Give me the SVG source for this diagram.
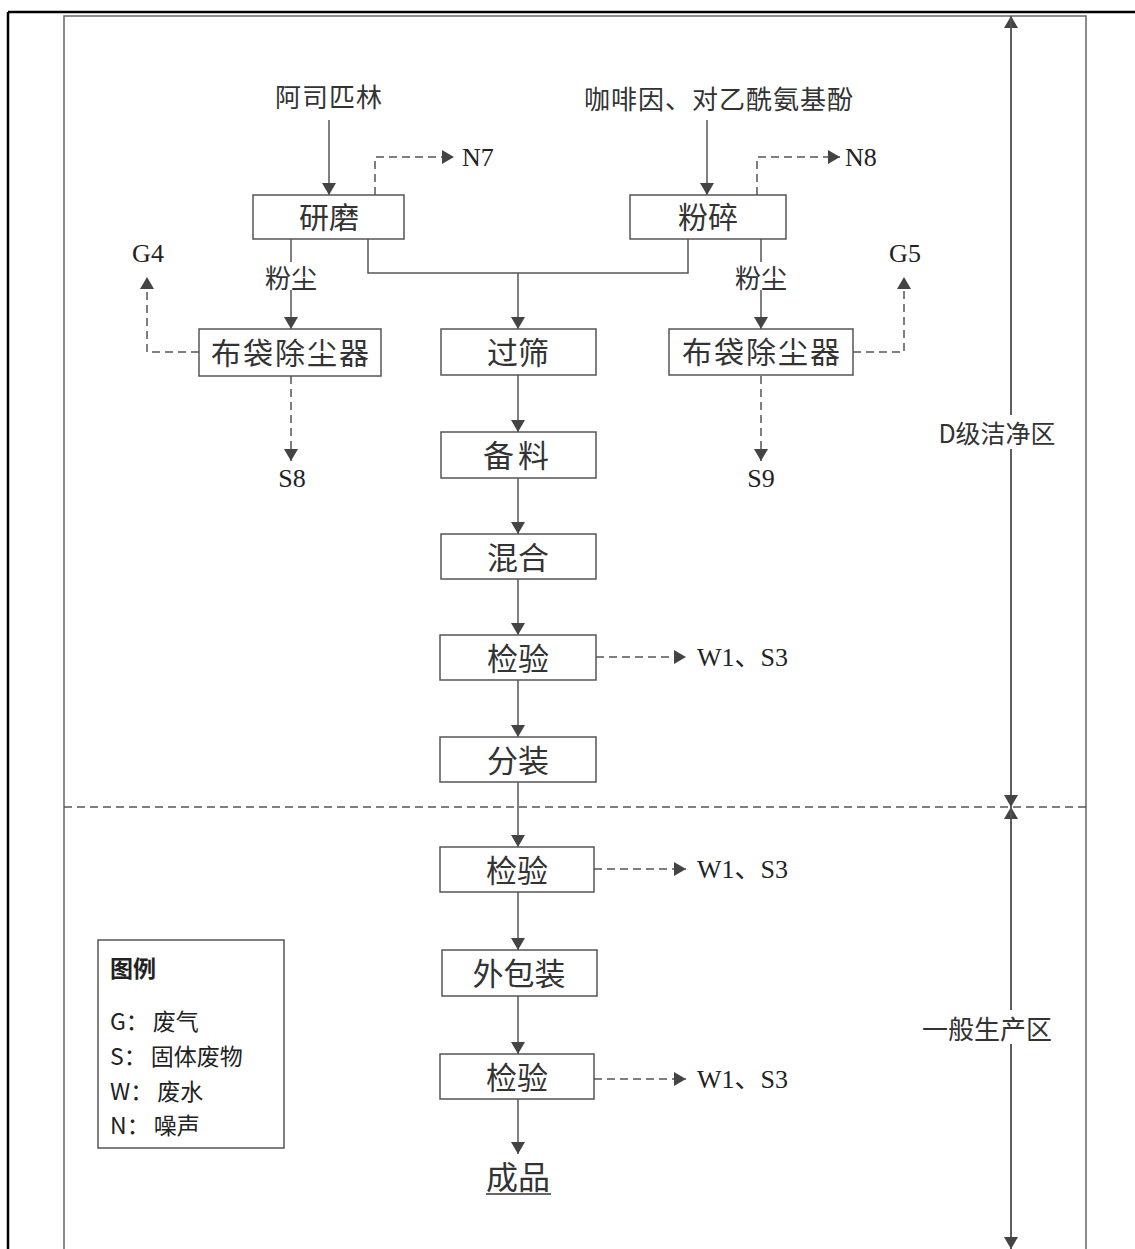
<svg xmlns="http://www.w3.org/2000/svg" width="1135" height="1249" viewBox="0 0 1135 1249">
<style>
.frame{fill:none;stroke:#000;stroke-width:2.5}
.inner{fill:none;stroke:#666;stroke-width:1.5}
.box{fill:#fff;stroke:#555;stroke-width:1.5}
.ln{fill:none;stroke:#555;stroke-width:1.5}
.dash{fill:none;stroke:#555;stroke-width:1.5;stroke-dasharray:8 5}
.cn{font-family:"Noto Sans CJK SC","Noto Sans",sans-serif;fill:#333;text-anchor:middle;dominant-baseline:central}
.lat{font-family:"Liberation Serif","Noto Sans CJK SC",serif;fill:#222;font-size:26px;dominant-baseline:central}
.lg{font-family:"Noto Sans CJK SC","Noto Sans",sans-serif;fill:#222;font-size:23px;dominant-baseline:central}
</style>
<defs>
<marker id="ah" viewBox="0 0 12 14" refX="12" refY="7" markerWidth="12" markerHeight="14" markerUnits="userSpaceOnUse" orient="auto">
<path d="M0,0 L12,7 L0,14 Z" fill="#444"/>
</marker>
</defs>
<rect width="1135" height="1249" fill="#fff"/>
<g id="frame">
<line class="frame" x1="8" y1="12" x2="1135" y2="12"/>
<line class="frame" x1="8" y1="12" x2="8" y2="1249"/>
<polyline class="inner" points="64,1249 64,16 1086,16 1086,1249"/>
<line class="dash" x1="64" y1="807" x2="1086" y2="807"/>
</g>
<g id="connectors">
<line class="ln" x1="329" y1="120" x2="329" y2="195" marker-end="url(#ah)"/>
<line class="ln" x1="707" y1="120" x2="707" y2="195" marker-end="url(#ah)"/>
<polyline class="dash" points="375,195 375,157 454,157" marker-end="url(#ah)"/>
<polyline class="dash" points="757,195 757,157 840,157" marker-end="url(#ah)"/>
<polyline class="ln" points="368,239 368,273 688,273 688,239"/>
<line class="ln" x1="518" y1="273" x2="518" y2="329" marker-end="url(#ah)"/>
<line class="ln" x1="291" y1="239" x2="291" y2="329" marker-end="url(#ah)"/>
<line class="ln" x1="761" y1="239" x2="761" y2="329" marker-end="url(#ah)"/>
<polyline class="dash" points="199,352 147,352 147,277" marker-end="url(#ah)"/>
<polyline class="dash" points="853,352 904,352 904,277" marker-end="url(#ah)"/>
<line class="dash" x1="291" y1="376" x2="291" y2="461" marker-end="url(#ah)"/>
<line class="dash" x1="761" y1="376" x2="761" y2="461" marker-end="url(#ah)"/>
<line class="ln" x1="518" y1="375" x2="518" y2="432" marker-end="url(#ah)"/>
<line class="ln" x1="518" y1="478" x2="518" y2="534" marker-end="url(#ah)"/>
<line class="ln" x1="518" y1="579" x2="518" y2="635" marker-end="url(#ah)"/>
<line class="ln" x1="518" y1="680" x2="518" y2="737" marker-end="url(#ah)"/>
<line class="ln" x1="518" y1="782" x2="518" y2="847" marker-end="url(#ah)"/>
<line class="ln" x1="518" y1="892" x2="518" y2="950" marker-end="url(#ah)"/>
<line class="ln" x1="518" y1="996" x2="518" y2="1054" marker-end="url(#ah)"/>
<line class="ln" x1="518" y1="1099" x2="518" y2="1154" marker-end="url(#ah)"/>
<line class="dash" x1="596" y1="657" x2="686" y2="657" marker-end="url(#ah)"/>
<line class="dash" x1="594" y1="869" x2="686" y2="869" marker-end="url(#ah)"/>
<line class="dash" x1="594" y1="1079" x2="686" y2="1079" marker-end="url(#ah)"/>
<line class="ln" x1="1011" y1="807" x2="1011" y2="16" marker-end="url(#ah)"/>
<line class="ln" x1="1011" y1="16" x2="1011" y2="807" marker-end="url(#ah)"/>
<line class="ln" x1="1011" y1="1249" x2="1011" y2="807" marker-end="url(#ah)"/>
<line class="ln" x1="1011" y1="807" x2="1011" y2="1249" marker-end="url(#ah)"/>
</g>
<g id="in1"><text class="cn" x="329" y="95" font-size="26" letter-spacing="1">阿司匹林</text></g>
<g id="in2"><text class="cn" x="719" y="97" font-size="26" letter-spacing="1">咖啡因、对乙酰氨基酚</text></g>
<g id="n7"><text class="lat" x="462" y="157">N7</text></g>
<g id="n8"><text class="lat" x="845" y="157">N8</text></g>
<g id="yanmo"><rect class="box" x="253" y="195" width="151" height="44"/><text class="cn" x="329" y="215" font-size="30">研磨</text></g>
<g id="fensui"><rect class="box" x="630" y="195" width="156" height="44"/><text class="cn" x="708" y="215" font-size="30">粉碎</text></g>
<g id="dust1"><rect x="262" y="262" width="58" height="28" fill="#fff"/><text class="cn" x="291" y="276" font-size="26">粉尘</text></g>
<g id="dust2"><rect x="732" y="262" width="58" height="28" fill="#fff"/><text class="cn" x="761" y="276" font-size="26">粉尘</text></g>
<g id="bag1"><rect class="box" x="199" y="329" width="182" height="47"/><text class="cn" x="291" y="351" font-size="30" letter-spacing="2">布袋除尘器</text></g>
<g id="bag2"><rect class="box" x="669" y="329" width="184" height="46"/><text class="cn" x="762" y="350" font-size="30" letter-spacing="2">布袋除尘器</text></g>
<g id="g4"><text class="lat" x="148" y="253" text-anchor="middle">G4</text></g>
<g id="g5"><text class="lat" x="905" y="253" text-anchor="middle">G5</text></g>
<g id="s8"><text class="lat" x="292" y="478" text-anchor="middle">S8</text></g>
<g id="s9"><text class="lat" x="761" y="478" text-anchor="middle">S9</text></g>
<g id="guoshai"><rect class="box" x="441" y="329" width="155" height="46"/><text class="cn" x="518" y="350" font-size="31">过筛</text></g>
<g id="beiliao"><rect class="box" x="441" y="432" width="155" height="46"/><text class="cn" x="518" y="453" font-size="31" letter-spacing="4">备料</text></g>
<g id="hunhe"><rect class="box" x="441" y="534" width="155" height="45"/><text class="cn" x="518" y="555" font-size="31">混合</text></g>
<g id="jianyan1"><rect class="box" x="440" y="635" width="156" height="45"/><text class="cn" x="518" y="656" font-size="31">检验</text></g>
<g id="out1"><text class="lat" x="697" y="657">W1、S3</text></g>
<g id="fenzhuang"><rect class="box" x="440" y="737" width="156" height="45"/><text class="cn" x="518" y="758" font-size="31">分装</text></g>
<g id="jianyan2"><rect class="box" x="440" y="847" width="154" height="45"/><text class="cn" x="517" y="868" font-size="31">检验</text></g>
<g id="out2"><text class="lat" x="697" y="869">W1、S3</text></g>
<g id="waibaozhuang"><rect class="box" x="442" y="950" width="155" height="46"/><text class="cn" x="519" y="971" font-size="31">外包装</text></g>
<g id="jianyan3"><rect class="box" x="440" y="1054" width="154" height="45"/><text class="cn" x="517" y="1075" font-size="31">检验</text></g>
<g id="out3"><text class="lat" x="697" y="1079">W1、S3</text></g>
<g id="chengpin"><text class="cn" x="518" y="1175" font-size="32">成品</text><line x1="486" y1="1194" x2="551" y2="1194" stroke="#333" stroke-width="1.5"/></g>
<g id="zone1"><rect x="933" y="415" width="130" height="34" fill="#fff"/><text class="cn" x="997" y="432" font-size="25">D级洁净区</text></g>
<g id="zone2"><rect x="917" y="1010" width="140" height="34" fill="#fff"/><text class="cn" x="987" y="1027" font-size="26">一般生产区</text></g>
<g id="legend">
<rect x="98" y="940" width="186" height="208" fill="#fff" stroke="#555" stroke-width="1.5"/>
<text class="lg" x="110" y="967" font-weight="bold" font-size="24">图例</text>
<text class="lg" x="110" y="1020">G：<tspan dx="4">废气</tspan></text>
<text class="lg" x="110" y="1055">S：<tspan dx="4">固体废物</tspan></text>
<text class="lg" x="110" y="1090">W：<tspan dx="4">废水</tspan></text>
<text class="lg" x="110" y="1124">N：<tspan dx="4">噪声</tspan></text>
</g>
</svg>
